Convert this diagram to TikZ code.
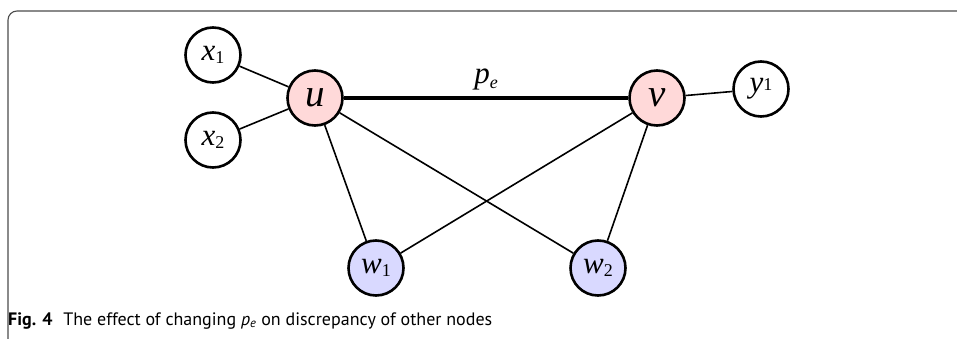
\documentclass[tikz,border=0pt]{standalone}
\usepackage{fontspec}
\setmainfont{Liberation Serif}
\newfontfamily\capfont{PT Sans}
\newcommand\sbx[1]{\raisebox{-0.25ex}{\fontsize{18}{18}\selectfont\upshape #1}}
\begin{document}
\begin{tikzpicture}[x=1pt,y=-1pt,
  vert/.style={circle,draw=black,line width=2.6pt,minimum size=55pt,inner sep=0pt,fill=white},
  redv/.style={vert,fill=red!15},
  bluev/.style={vert,fill=blue!15},
  edge/.style={line width=1.6pt},
  heavy/.style={line width=4.5pt},
  lbl/.style={font=\fontsize{31}{31}\selectfont\itshape},
  big/.style={font=\fontsize{39}{39}\selectfont\itshape}]
\useasboundingbox (0,0) rectangle (957,339);
% panel frame
\draw[gray!60!black,line width=1.1pt,rounded corners=9pt] (957,11) -- (8,11) -- (8,345);
% vertices
\node[vert,lbl]  (x1) at (213,55)  {x\sbx{1}};
\node[vert,lbl]  (x2) at (213,140) {x\sbx{2}};
\node[redv,big]  (u)  at (315,98)  {u};
\node[redv,big]  (v)  at (657,98)  {v};
\node[vert,lbl]  (y1) at (761,89)  {y\raisebox{0.15ex}{\fontsize{18}{18}\selectfont\upshape 1}};
\node[bluev,lbl] (w1) at (376,268) {w\sbx{1}};
\node[bluev,lbl] (w2) at (598,268) {w\sbx{2}};
% edges
\draw[heavy] (u) -- (v) node[midway,above=2pt,lbl] (pe) {p\raisebox{-0.35ex}{\fontsize{18}{18}\selectfont e}};
\draw[edge] (x1) -- (u);
\draw[edge] (x2) -- (u);
\draw[edge] (v) -- (y1);
\draw[edge] (u) -- (w1);
\draw[edge] (u) -- (w2);
\draw[edge] (v) -- (w1);
\draw[edge] (v) -- (w2);
% caption
\node[anchor=base west,inner sep=0pt,font=\capfont\fontsize{18}{18}\selectfont] (cap) at (8,325)
  {\textbf{Fig. 4}\hspace{0.6em}The effect of changing \textit{p\textsubscript{e}} on discrepancy of other nodes};
\end{tikzpicture}
\end{document}
